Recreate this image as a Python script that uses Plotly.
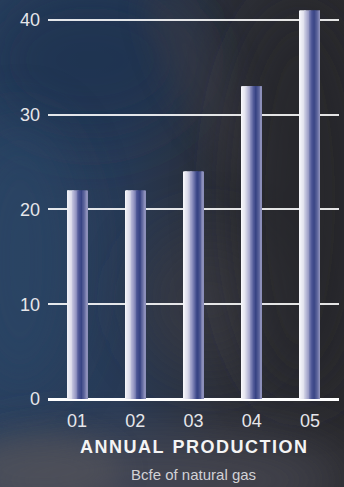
import base64
import plotly.graph_objects as go

# Annual production, Bcfe of natural gas
years = ["01", "02", "03", "04", "05"]
production = [22, 22, 24, 33, 41]
y_ticks = [0, 10, 20, 30, 40]

FONT = "Liberation Sans, Arial, sans-serif"

# Horizontal shading across each column (left highlight -> deep blue -> soft purple)
STOPS = [
    (0.00, (248, 248, 252)),
    (0.22, (222, 222, 236)),
    (0.45, (150, 152, 196)),
    (0.62, (74, 84, 148)),
    (0.74, (54, 66, 130)),
    (0.88, (92, 100, 156)),
    (1.00, (150, 152, 192)),
]


def shade(t):
    for (t0, c0), (t1, c1) in zip(STOPS, STOPS[1:]):
        if t <= t1:
            f = (t - t0) / (t1 - t0) if t1 > t0 else 0
            r, g, b = (round(a + (b_ - a) * f) for a, b_ in zip(c0, c1))
            return f"rgb({r},{g},{b})"
    r, g, b = STOPS[-1][1]
    return f"rgb({r},{g},{b})"


BAR_W = 0.345
N_SLICES = 24
slice_w = BAR_W / N_SLICES

fig = go.Figure()
for k in range(N_SLICES):
    fig.add_trace(go.Bar(
        x=years,
        y=production,
        width=slice_w * 1.35 if k < N_SLICES - 1 else slice_w,
        offset=-BAR_W / 2 + k * slice_w,
        marker=dict(color=shade((k + 0.5) / N_SLICES), line=dict(width=0)),
        hoverinfo="skip",
        showlegend=False,
    ))

# Cloudy dark-blue backdrop
svg = """<svg xmlns='http://www.w3.org/2000/svg' width='344' height='487' viewBox='0 0 344 487'>
<defs>
<linearGradient id='h' x1='0' y1='0' x2='1' y2='0'>
<stop offset='0' stop-color='#29405f'/>
<stop offset='0.35' stop-color='#283a56'/>
<stop offset='0.65' stop-color='#2c2f38'/>
<stop offset='1' stop-color='#29292d'/>
</linearGradient>
<filter id='f' x='-50%' y='-50%' width='200%' height='200%'><feGaussianBlur stdDeviation='28'/></filter>
<filter id='g' x='-50%' y='-50%' width='200%' height='200%'><feGaussianBlur stdDeviation='14'/></filter>
</defs>
<rect width='344' height='487' fill='url(#h)'/>
<ellipse cx='90' cy='60' rx='110' ry='80' fill='#1e3150' opacity='0.7' filter='url(#f)'/>
<ellipse cx='20' cy='260' rx='60' ry='140' fill='#2c4668' opacity='0.6' filter='url(#f)'/>
<ellipse cx='210' cy='300' rx='70' ry='70' fill='#3b3b42' opacity='0.7' filter='url(#f)'/>
<ellipse cx='210' cy='90' rx='30' ry='110' fill='#3a3a44' opacity='0.5' filter='url(#g)' transform='rotate(-30 210 90)'/>
<ellipse cx='300' cy='200' rx='70' ry='200' fill='#27272b' opacity='0.7' filter='url(#f)'/>
<ellipse cx='150' cy='480' rx='200' ry='45' fill='#4a4a52' opacity='0.85' filter='url(#f)'/>
<ellipse cx='40' cy='470' rx='80' ry='35' fill='#55555c' opacity='0.6' filter='url(#g)'/>
</svg>"""
bg_src = "data:image/svg+xml;base64," + base64.b64encode(svg.encode()).decode()

W, H = 344, 487
ML, MR, MT, MB = 48, 5, 1, 88
pw, ph = W - ML - MR, H - MT - MB

fig.add_layout_image(dict(
    source=bg_src, xref="paper", yref="paper",
    x=-ML / pw, y=1 + MT / ph, sizex=W / pw, sizey=H / ph,
    sizing="stretch", layer="below", xanchor="left", yanchor="top",
))

title_txt = "\u200a".join("ANNUAL") + "\u2002" + "\u200a".join("PRODUCTION")
fig.add_annotation(
    text=title_txt,
    xref="paper", yref="paper", x=0.5, y=-(447 - (MT + ph)) / ph,
    xanchor="center", yanchor="middle", showarrow=False,
    font=dict(family=FONT, size=18, color="#f4f4f4", weight="bold"),
)
fig.add_annotation(
    text="Bcfe of natural gas",
    xref="paper", yref="paper", x=0.5, y=-(474 - (MT + ph)) / ph,
    xanchor="center", yanchor="middle", showarrow=False,
    font=dict(family=FONT, size=15, color="#d2d2d6"),
)

fig.update_layout(
    width=W, height=H,
    margin=dict(l=ML, r=MR, t=MT, b=MB),
    paper_bgcolor="#2a3548",
    plot_bgcolor="rgba(0,0,0,0)",
    barmode="overlay",
    showlegend=False,
    xaxis=dict(
        type="category",
        showgrid=False, zeroline=False, showline=False, ticks="",
        tickfont=dict(family=FONT, size=18, color="#e6e6ea"),
        ticklabelstandoff=9,
    ),
    yaxis=dict(
        range=[0, 42], tickvals=y_ticks,
        showgrid=True, gridcolor="rgba(255,255,255,0.88)", gridwidth=1.5,
        zeroline=True, zerolinecolor="#ffffff", zerolinewidth=2.5,
        showline=False, ticks="",
        tickfont=dict(family=FONT, size=18, color="#e6e6ea"),
        ticklabelstandoff=7,
    ),
)

fig.write_html("out.html")
